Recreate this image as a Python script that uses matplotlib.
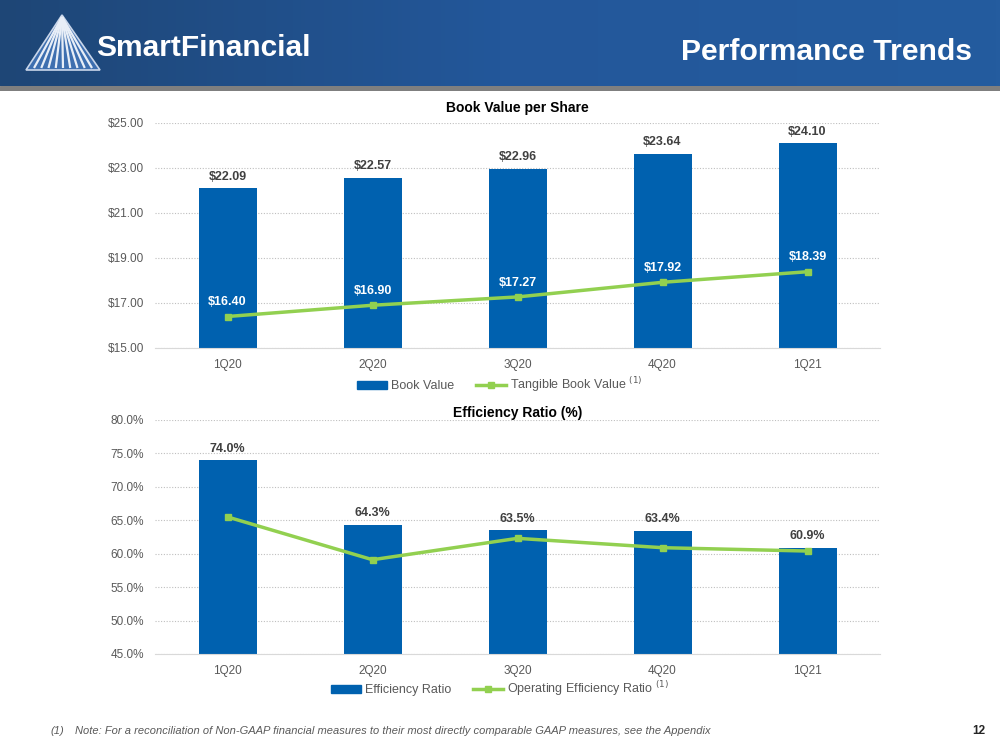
import numpy as np
import matplotlib.pyplot as plt
from matplotlib.patches import Polygon, Rectangle
from matplotlib.lines import Line2D
from matplotlib.ticker import FuncFormatter
from matplotlib.colors import LinearSegmentedColormap

quarters = ['1Q20', '2Q20', '3Q20', '4Q20', '1Q21']
book_value = [22.09, 22.57, 22.96, 23.64, 24.10]
tangible_book_value = [16.40, 16.90, 17.27, 17.92, 18.39]
efficiency_ratio = [74.0, 64.3, 63.5, 63.4, 60.9]
operating_efficiency = [65.5, 59.1, 62.3, 60.9, 60.4]

BLUE = '#0061AF'
GREEN = '#92D050'
GRAY = '#595959'
plt.rcParams['font.family'] = ['Liberation Sans', 'DejaVu Sans']

fig = plt.figure(figsize=(10, 7.5), dpi=100)
W, H = 1000, 750


def px_axes(x0, y0, x1, y1):
    # axes from pixel box (top-left origin)
    return fig.add_axes([x0 / W, 1 - y1 / H, (x1 - x0) / W, (y1 - y0) / H])


# header band
hdr = px_axes(0, 0, 1000, 86)
grad = np.linspace(0, 1, 256)[None, :]
cm = LinearSegmentedColormap.from_list('hdr', ['#1E4676', '#23579A', '#245C9F'])
hdr.imshow(grad, aspect='auto', cmap=cm, extent=[0, 1000, 86, 0])
hdr.set_xlim(0, 1000)
hdr.set_ylim(86, 0)
hdr.axis('off')
# logo triangle
hdr.add_patch(Polygon([[26, 70], [100, 70], [62, 15]], closed=True,
                      facecolor='#3E6FB0', edgecolor='#C9D6EA', lw=1.2))
for xb in np.linspace(34, 92, 9):
    hdr.plot([62, xb], [17, 68], color='#E8EEF7', lw=1.6, solid_capstyle='butt')
hdr.text(96, 48, 'SmartFinancial', color='white', fontsize=21.5, fontweight='bold',
         va='center', ha='left')
hdr.text(972, 52, 'Performance Trends', color='white', fontsize=21.7,
         fontweight='bold', va='center', ha='right')

sep = px_axes(0, 86, 1000, 91)
sep.add_patch(Rectangle((0, 0), 1, 1, color='#7F7F7F', transform=sep.transAxes))
sep.axis('off')

x = np.arange(len(quarters))


def style_axes(ax):
    ax.set_xlim(-0.5, len(quarters) - 0.5)
    for s in ['top', 'right', 'left']:
        ax.spines[s].set_visible(False)
    ax.spines['bottom'].set_color('#D9D9D9')
    ax.tick_params(axis='both', length=0, labelsize=8.5, colors=GRAY, pad=8)
    ax.yaxis.grid(True, linestyle=(0, (1, 1.5)), color='#BFBFBF', lw=0.8)
    ax.set_axisbelow(True)
    ax.set_xticks(x)
    ax.set_xticklabels(quarters)


def add_legend(labels, ypx):
    handles = [Rectangle((0, 0), 1, 1, color=BLUE),
               Line2D([], [], color=GREEN, lw=2.5, marker='s', ms=5)]
    fig.legend(handles, labels, loc='center', bbox_to_anchor=(0.5, 1 - ypx / H),
               ncol=2, frameon=False, fontsize=9, labelcolor=GRAY,
               handlelength=2.4, columnspacing=1.8, handletextpad=0.3)


# Book value chart
ax1 = px_axes(155, 123, 880, 348)
ax1.bar(x, book_value, width=0.4, color=BLUE, zorder=2)
ax1.plot(x, tangible_book_value, color=GREEN, lw=2.5, marker='s', ms=5, zorder=3)
ax1.set_ylim(15, 25)
ax1.set_yticks(np.arange(15, 25.01, 2))
ax1.yaxis.set_major_formatter(FuncFormatter(lambda v, p: f'${v:.2f}'))
style_axes(ax1)
for xi, v in zip(x, book_value):
    ax1.annotate(f'${v:.2f}', (xi, v), xytext=(0, 4), textcoords='offset points',
                 ha='center', va='bottom', fontsize=9, fontweight='bold', color='#404040')
for xi, v in zip(x, tangible_book_value):
    ax1.annotate(f'${v:.2f}', (xi, v), xytext=(0, 6), textcoords='offset points',
                 ha='center', va='bottom', fontsize=9, fontweight='bold', color='white')
ax1.set_title('Book Value per Share', fontsize=10, fontweight='bold', pad=8)
add_legend(['Book Value', 'Tangible Book Value $^{(1)}$'], 385)

# Efficiency chart
ax2 = px_axes(155, 420, 880, 654)
ax2.bar(x, efficiency_ratio, width=0.4, color=BLUE, zorder=2)
ax2.plot(x, operating_efficiency, color=GREEN, lw=2.5, marker='s', ms=5, zorder=3)
ax2.set_ylim(45, 80)
ax2.set_yticks(np.arange(45, 80.01, 5))
ax2.yaxis.set_major_formatter(FuncFormatter(lambda v, p: f'{v:.1f}%'))
style_axes(ax2)
for xi, v in zip(x, efficiency_ratio):
    ax2.annotate(f'{v:.1f}%', (xi, v), xytext=(0, 4), textcoords='offset points',
                 ha='center', va='bottom', fontsize=9, fontweight='bold', color='#404040')
ax2.set_title('Efficiency Ratio (%)', fontsize=10, fontweight='bold', pad=2)
add_legend(['Efficiency Ratio', 'Operating Efficiency Ratio $^{(1)}$'], 689)

# footnote
fig.text(50 / W, 1 - 731 / H, '(1)', fontsize=8, style='italic', color=GRAY, va='center')
fig.text(75 / W, 1 - 731 / H,
         'Note: For a reconciliation of Non-GAAP financial measures to their most directly '
         'comparable GAAP measures, see the Appendix',
         fontsize=8, style='italic', color=GRAY, va='center')
fig.text(985 / W, 1 - 731 / H, '12', fontsize=8.5, fontweight='bold', color='#262626',
         va='center', ha='right')

fig.savefig('out.png', dpi=100)
